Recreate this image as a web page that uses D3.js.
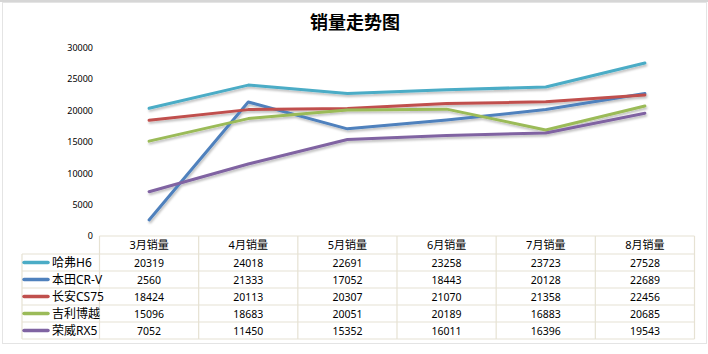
<!DOCTYPE html>
<html>
<head>
<meta charset="utf-8">
<script src="https://cdn.jsdelivr.net/npm/d3@7"></script>
<style>
  body { margin: 0; background: #fff; }
  svg { display: block; font-family: "Noto Sans", "Noto Sans CJK SC", sans-serif; }
</style>
</head>
<body>
<svg id="chart" width="708" height="354"></svg>
<script>
// chart data
let months = ["3月销量", "4月销量", "5月销量", "6月销量", "7月销量", "8月销量"]
let names = ["哈弗H6", "本田CR-V", "长安CS75", "吉利博越", "荣威RX5"]
let havalH6 = [20319, 24018, 22691, 23258, 23723, 27528]
let hondaCRV = [2560, 21333, 17052, 18443, 20128, 22689]
let changanCS75 = [18424, 20113, 20307, 21070, 21358, 22456]
let geelyBoyue = [15096, 18683, 20051, 20189, 16883, 20685]
let roeweRX5 = [7052, 11450, 15352, 16011, 16396, 19543]
let yTicks = [0, 5000, 10000, 15000, 20000, 25000, 30000]

let colors = ["#4BACC6", "#4F81BD", "#C0504D", "#9BBB59", "#8064A2"]
let seriesValues = [havalH6, hondaCRV, changanCS75, geelyBoyue, roeweRX5]

let series = names.map((n, i) => ({ name: n, values: seriesValues[i], color: colors[i] }))

let tableLeft = 22,
    plotLeft = 99.5,
    plotRight = 694.5,
    plotTop = 47.5,
    plotBottom = 236,
    rowH = 17,
    gridColor = "#E6E2D3"

let svg = d3.select("#chart")

// spreadsheet frame around the chart object
svg.append("rect")
    .attr("x", 0).attr("y", 0).attr("width", 708).attr("height", 2)
    .attr("fill", "#D6D6D6")
svg.append("rect")
    .attr("x", 2.5).attr("y", 2.5).attr("width", 704).attr("height", 341)
    .attr("fill", "#fff")
    .attr("stroke", "#E4E4E4")

let defs = svg.append("defs")
let shadow = defs.append("filter").attr("id", "shadow")
    .attr("x", "-5%").attr("y", "-20%").attr("width", "110%").attr("height", "140%")
shadow.append("feDropShadow")
    .attr("dx", 1).attr("dy", 2).attr("stdDeviation", 1.2)
    .attr("flood-color", "#000").attr("flood-opacity", 0.25)

// title
svg.append("text")
    .attr("x", 355)
    .attr("y", 29)
    .attr("text-anchor", "middle")
    .style("font-size", "18px")
    .style("font-weight", "bold")
    .style("font-family", "'Noto Sans CJK SC', sans-serif")
    .text("销量走势图")

// scales
let x = d3.scaleBand()
    .domain(months)
    .range([plotLeft, plotRight])

let y = d3.scaleLinear()
    .domain([0, 30000])
    .range([plotBottom, plotTop])

// y axis labels
let yAxis = svg.append("g")
    .attr("transform", "translate(93,0)")
    .call(d3.axisLeft(y).tickValues(yTicks).tickSize(0).tickPadding(0).tickFormat(d3.format("d")))
yAxis.select(".domain").remove()
yAxis.selectAll("text")
    .style("font-size", "9px")
    .style("font-family", "'Noto Sans', sans-serif")
    .attr("fill", "#000")

// data table grid
let grid = svg.append("g").attr("stroke", gridColor).attr("stroke-width", 1.2).attr("fill", "none")
grid.append("line")
    .attr("x1", plotLeft).attr("x2", plotRight)
    .attr("y1", plotBottom).attr("y2", plotBottom)
for (let r = 1; r <= names.length + 1; r++) {
    grid.append("line")
        .attr("x1", tableLeft).attr("x2", plotRight)
        .attr("y1", plotBottom + 18 + (r - 1) * rowH).attr("y2", plotBottom + 18 + (r - 1) * rowH)
}
let tableBottom = plotBottom + 18 + names.length * rowH
grid.append("line")
    .attr("x1", tableLeft).attr("x2", tableLeft)
    .attr("y1", plotBottom + 18).attr("y2", tableBottom)
months.forEach(m => {
    grid.append("line")
        .attr("x1", x(m)).attr("x2", x(m))
        .attr("y1", plotBottom).attr("y2", tableBottom)
})
grid.append("line")
    .attr("x1", plotRight).attr("x2", plotRight)
    .attr("y1", plotBottom).attr("y2", tableBottom)

// header labels
svg.selectAll(".month")
    .data(months)
    .enter().append("text")
    .attr("class", "month")
    .attr("x", d => x(d) + x.bandwidth() / 2)
    .attr("y", plotBottom + 13)
    .attr("text-anchor", "middle")
    .style("font-size", "11px")
    .text(d => d)

// rows
let rows = svg.selectAll(".row")
    .data(series)
    .enter().append("g")
    .attr("class", "row")
    .attr("transform", (d, i) => "translate(0," + (plotBottom + 18 + i * rowH) + ")")

rows.append("line")
    .attr("x1", 24).attr("x2", 48)
    .attr("y1", rowH / 2).attr("y2", rowH / 2)
    .attr("stroke", d => d.color)
    .attr("stroke-width", 3.5)
    .attr("stroke-linecap", "round")

rows.append("text")
    .attr("x", 52)
    .attr("y", rowH / 2 + 4.5)
    .style("font-size", "12px")
    .text(d => d.name)

rows.selectAll(".val")
    .data(d => d.values)
    .enter().append("text")
    .attr("class", "val")
    .attr("x", (v, i) => x(months[i]) + x.bandwidth() / 2)
    .attr("y", rowH / 2 + 4)
    .attr("text-anchor", "middle")
    .style("font-size", "10.5px")
    .text(v => v)

// lines
let line = d3.line()
    .x((v, i) => x(months[i]) + x.bandwidth() / 2)
    .y(v => y(v))

svg.append("g")
    .attr("filter", "url(#shadow)")
    .selectAll(".series")
    .data(series)
    .enter().append("path")
    .attr("class", "series")
    .attr("d", d => line(d.values))
    .attr("fill", "none")
    .attr("stroke", d => d.color)
    .attr("stroke-width", 3)
    .attr("stroke-linejoin", "round")
    .attr("stroke-linecap", "round")
</script>
</body>
</html>
